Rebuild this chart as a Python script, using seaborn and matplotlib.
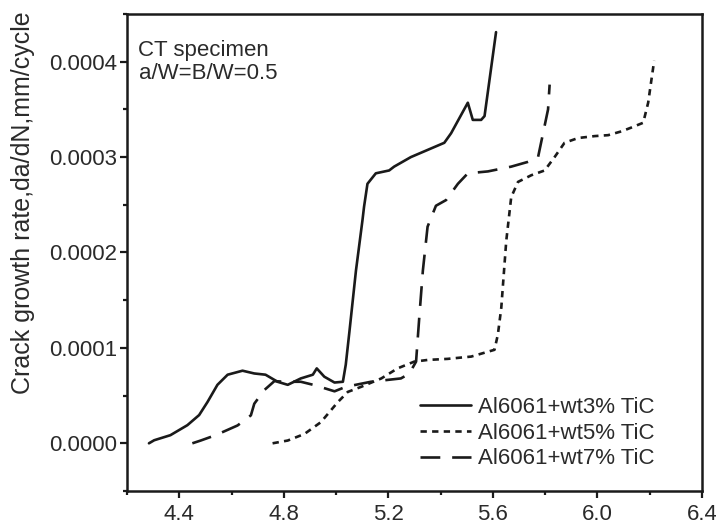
import numpy as np
import pandas as pd
import matplotlib
matplotlib.use("Agg")
import matplotlib.pyplot as plt
import seaborn as sns
from matplotlib.ticker import MultipleLocator, FormatStrFormatter

# ---- data ----
k3_x = [4.284, 4.304, 4.366, 4.431, 4.476, 4.508, 4.546, 4.585, 4.642, 4.687, 4.730,
        4.776, 4.815, 4.865, 4.911, 4.926, 4.955, 4.994, 5.026, 5.037, 5.051, 5.076,
        5.101, 5.107, 5.120, 5.152, 5.203, 5.222, 5.286, 5.414, 5.440, 5.504, 5.523,
        5.555, 5.568, 5.612]
k3_y = [0.0, 0.0000032, 0.0000085, 0.000019, 0.0000296, 0.0000433, 0.0000613,
        0.0000719, 0.0000761, 0.0000732, 0.0000719, 0.0000645, 0.0000613, 0.000068,
        0.0000719, 0.0000785, 0.0000698, 0.0000637, 0.0000645, 0.0000824, 0.000117,
        0.000181, 0.000234, 0.000248, 0.000272, 0.000283, 0.000286, 0.00029, 0.0003,
        0.000315, 0.000325, 0.000357, 0.000339, 0.000339, 0.000343, 0.000431]

k5_x = [4.757, 4.815, 4.879, 4.942, 5.007, 5.045, 5.096, 5.173, 5.235, 5.299, 5.351,
        5.427, 5.517, 5.606, 5.619, 5.632, 5.651, 5.670, 5.696, 5.747, 5.798, 5.836,
        5.874, 5.926, 5.989, 6.041, 6.092, 6.130, 6.175, 6.194, 6.207, 6.217]
k5_y = [0.0, 0.0000029, 0.0000098, 0.0000222, 0.0000433, 0.0000539, 0.0000592,
        0.000068, 0.0000785, 0.0000856, 0.0000874, 0.0000885, 0.0000909, 0.000098,
        0.000114, 0.000142, 0.000212, 0.000258, 0.000274, 0.000281, 0.000286, 0.0003,
        0.000315, 0.00032, 0.000322, 0.000323, 0.000327, 0.000331, 0.000336, 0.000357,
        0.000382, 0.000401]

k7_x = [4.450, 4.482, 4.539, 4.623, 4.674, 4.687, 4.725, 4.764, 4.802, 4.865, 4.917,
        4.994, 5.037, 5.133, 5.248, 5.280, 5.306, 5.318, 5.332, 5.350, 5.382, 5.421,
        5.466, 5.504, 5.581, 5.670, 5.734, 5.772, 5.785, 5.811, 5.817]
k7_y = [0.0, 0.0000029, 0.0000085, 0.0000187, 0.0000293, 0.0000415, 0.0000557,
        0.0000652, 0.0000645, 0.0000645, 0.000061, 0.0000545, 0.0000592, 0.0000645,
        0.000068, 0.000073, 0.0000856, 0.000131, 0.000181, 0.000227, 0.000249,
        0.000255, 0.000272, 0.000283, 0.000285, 0.00029, 0.000295, 0.000299,
        0.000316, 0.00035, 0.000376]

labels = ["Al6061+wt3% TiC", "Al6061+wt5% TiC", "Al6061+wt7% TiC"]
x_ticks = [4.4, 4.8, 5.2, 5.6, 6.0, 6.4]
y_ticks = [0.0, 0.0001, 0.0002, 0.0003, 0.0004]

frames = []
for lab, xs, ys in zip(labels, [k3_x, k5_x, k7_x], [k3_y, k5_y, k7_y]):
    frames.append(pd.DataFrame({"x": xs, "y": ys, "series": lab}))
df = pd.concat(frames, ignore_index=True)

sns.set_style("ticks")
plt.rcParams["font.family"] = ["Liberation Sans", "DejaVu Sans"]
plt.rcParams["axes.linewidth"] = 1.8

fig = plt.figure(figsize=(7.16, 5.27), dpi=100)
ax = fig.add_axes([127/716, 1 - 491/527, (702 - 127)/716, (491 - 14)/527])

line_col = "#1a1a1a"
sns.lineplot(data=df, x="x", y="y", style="series", color=line_col,
             dashes={labels[0]: "", labels[1]: (2.4, 2.0), labels[2]: (7.5, 4.5)},
             estimator=None, sort=False, linewidth=1.9, ax=ax)

ax.set_xlim(4.2, 6.4)
ax.set_ylim(-0.00005, 0.00045)
ax.set_xticks(x_ticks)
ax.set_yticks(y_ticks)
ax.xaxis.set_minor_locator(MultipleLocator(0.2))
ax.yaxis.set_minor_locator(MultipleLocator(0.00005))
ax.yaxis.set_major_formatter(FormatStrFormatter("%.4f"))
ax.xaxis.set_major_formatter(FormatStrFormatter("%.1f"))

txt_col = "#2a2a2a"
ax.tick_params(axis="both", which="major", direction="out", length=5, width=1.6,
               labelsize=16, colors=line_col, labelcolor=txt_col)
ax.tick_params(axis="x", which="major", pad=4)
ax.tick_params(axis="y", which="major", pad=2)
ax.tick_params(axis="both", which="minor", direction="out", length=3, width=1.6,
               colors=line_col)
ax.tick_params(top=False, right=False, which="both")
for s in ax.spines.values():
    s.set_visible(True)
    s.set_linewidth(1.8)
    s.set_color(line_col)

ax.set_xlabel("")
ax.set_ylabel("Crack growth rate,da/dN,mm/cycle", fontsize=18, color=txt_col)
ax.yaxis.set_label_coords(-(127 - 35) / 575, (491 - 203) / 477)

ax.text(0.02, 0.945, "CT specimen\na/W=B/W=0.5", transform=ax.transAxes,
        fontsize=16, color=txt_col, va="top", ha="left", linespacing=1.12)

leg = ax.legend(loc="upper left", bbox_to_anchor=((420 - 127) / 575, (491 - 397) / 477),
                frameon=False, fontsize=16, handlelength=2.3, handletextpad=0.3,
                labelspacing=0.21, borderpad=0, borderaxespad=0)
for t in leg.get_texts():
    t.set_color(txt_col)

fig.savefig("out.png", dpi=100)
